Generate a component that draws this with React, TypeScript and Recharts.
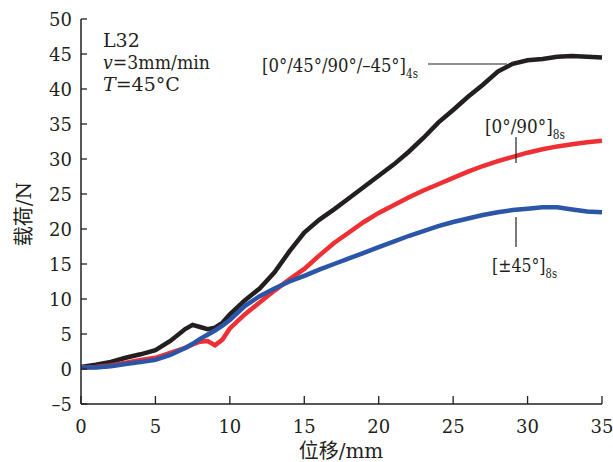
import React from 'react';
import { LineChart, Line, XAxis, YAxis } from 'recharts';

const displacement = [0, 1, 2, 3, 4, 5, 6, 7, 7.5, 8, 8.5, 9, 9.5, 10, 11, 12, 13, 14, 15, 16, 17, 18, 19, 20, 21, 22, 23, 24, 25, 26, 27, 28, 29, 30, 31, 32, 33, 34, 35];
const loadQuasi = [0.3, 0.6, 1.0, 1.6, 2.1, 2.7, 4.0, 5.7, 6.3, 6.0, 5.7, 5.9, 6.6, 7.8, 9.8, 11.5, 13.8, 16.8, 19.5, 21.3, 22.8, 24.4, 26.0, 27.6, 29.2, 31.0, 33.0, 35.2, 37.0, 38.9, 40.6, 42.5, 43.6, 44.1, 44.3, 44.6, 44.7, 44.6, 44.5];
const loadCross = [0.2, 0.3, 0.5, 0.9, 1.3, 1.6, 2.3, 3.0, 3.5, 3.9, 4.0, 3.4, 4.2, 5.8, 7.8, 9.5, 11.2, 12.8, 14.3, 16.2, 18.0, 19.5, 21.0, 22.3, 23.4, 24.5, 25.5, 26.4, 27.3, 28.2, 29.0, 29.7, 30.3, 30.9, 31.4, 31.8, 32.1, 32.4, 32.6];
const loadAngle = [0.2, 0.2, 0.4, 0.7, 1.0, 1.3, 2.0, 3.0, 3.6, 4.3, 4.9, 5.5, 6.2, 7.0, 9.0, 10.4, 11.5, 12.5, 13.3, 14.2, 15.0, 15.8, 16.6, 17.4, 18.2, 19.0, 19.7, 20.4, 21.0, 21.5, 22.0, 22.4, 22.7, 22.9, 23.1, 23.1, 22.8, 22.5, 22.4];
const xTicks = [0, 5, 10, 15, 20, 25, 30, 35];
const yTicks = [-5, 0, 5, 10, 15, 20, 25, 30, 35, 40, 45, 50];

const data = displacement.map((x, i) => ({ x, quasi: loadQuasi[i], cross: loadCross[i], angle: loadAngle[i] }));

const FONT = "DejaVu Serif, Liberation Serif, serif";
const CJK = "DejaVu Serif, Noto Sans CJK SC, serif";
const INK = '#231f20';

const fmt = (v: number) => (v < 0 ? '\u2013' + Math.abs(v) : String(v));

const XTick = (props: any) => {
  const { x, y, payload } = props;
  return (
    <g>
      <line x1={x} y1={y} x2={x} y2={y - 8} stroke={INK} strokeWidth={1.3} />
      <text x={x} y={y + 29} textAnchor="middle" fontFamily={FONT} fontSize={18} fill={INK}>{fmt(payload.value)}</text>
    </g>
  );
};

const YTick = (props: any) => {
  const { x, y, payload } = props;
  return (
    <g>
      <line x1={x} y1={y} x2={x + 6} y2={y} stroke={INK} strokeWidth={1.3} />
      <text x={x - 9} y={y + 7} textAnchor="end" fontFamily={FONT} fontSize={18} fill={INK}>{fmt(payload.value)}</text>
    </g>
  );
};

export default function App() {
  return (
    <div style={{ position: 'absolute', left: 0, top: 0, width: 613, height: 462, background: '#fff' }}>
      <LineChart width={613} height={462} data={data} margin={{ top: 19, right: 11, bottom: 28, left: 0 }}>
        <XAxis
          type="number"
          dataKey="x"
          domain={[0, 35]}
          ticks={xTicks}
          interval={0}
          height={30}
          tickSize={0}
          tickMargin={0}
          tickLine={false}
          tick={<XTick />}
          axisLine={{ stroke: INK, strokeWidth: 1.5 }}
        />
        <YAxis
          type="number"
          domain={[-5, 50]}
          ticks={yTicks}
          interval={0}
          width={81}
          tickSize={0}
          tickMargin={0}
          tickLine={false}
          tick={<YTick />}
          axisLine={{ stroke: INK, strokeWidth: 1.5 }}
        />
        <Line type="linear" dataKey="quasi" stroke="#231f20" strokeWidth={4.5} dot={false} isAnimationActive={false} />
        <Line type="linear" dataKey="cross" stroke="#ee3035" strokeWidth={4.5} dot={false} isAnimationActive={false} />
        <Line type="linear" dataKey="angle" stroke="#2b55a6" strokeWidth={4.5} dot={false} isAnimationActive={false} />
      </LineChart>
      <svg width={613} height={462} style={{ position: 'absolute', left: 0, top: 0, pointerEvents: 'none' }}>
        <g fill={INK} fontFamily={FONT}>
          <text x={103} y={47} fontSize={19}>L32</text>
          <text x={103} y={69} fontSize={19} textLength={107} lengthAdjust="spacingAndGlyphs"><tspan fontStyle="italic">v</tspan>=3mm/min</text>
          <text x={103} y={91} fontSize={19}><tspan fontStyle="italic">T</tspan>=45°C</text>

          <text x={262} y={72} fontSize={19} textLength={156} lengthAdjust="spacingAndGlyphs">[0°/45°/90°/–45°]<tspan fontSize={12} dy={6}>4s</tspan></text>
          <line x1={428} y1={64} x2={507} y2={64} stroke={INK} strokeWidth={1.2} />

          <text x={485} y={133} fontSize={19} textLength={80} lengthAdjust="spacingAndGlyphs">[0°/90°]<tspan fontSize={12} dy={6}>8s</tspan></text>
          <line x1={516} y1={137} x2={516} y2={163} stroke={INK} strokeWidth={1.2} />

          <text x={492} y={272} fontSize={19} textLength={65} lengthAdjust="spacingAndGlyphs">[±45°]<tspan fontSize={12} dy={6}>8s</tspan></text>
          <line x1={516} y1={217} x2={516} y2={247} stroke={INK} strokeWidth={1.2} />

          <text x={341} y={458} fontSize={20} textAnchor="middle" fontFamily={CJK}>位移/mm</text>
          <text x={0} y={0} fontSize={20} textAnchor="middle" dominantBaseline="central" fontFamily={CJK} transform="translate(24 214) rotate(-90)">载荷/N</text>
        </g>
      </svg>
    </div>
  );
}
